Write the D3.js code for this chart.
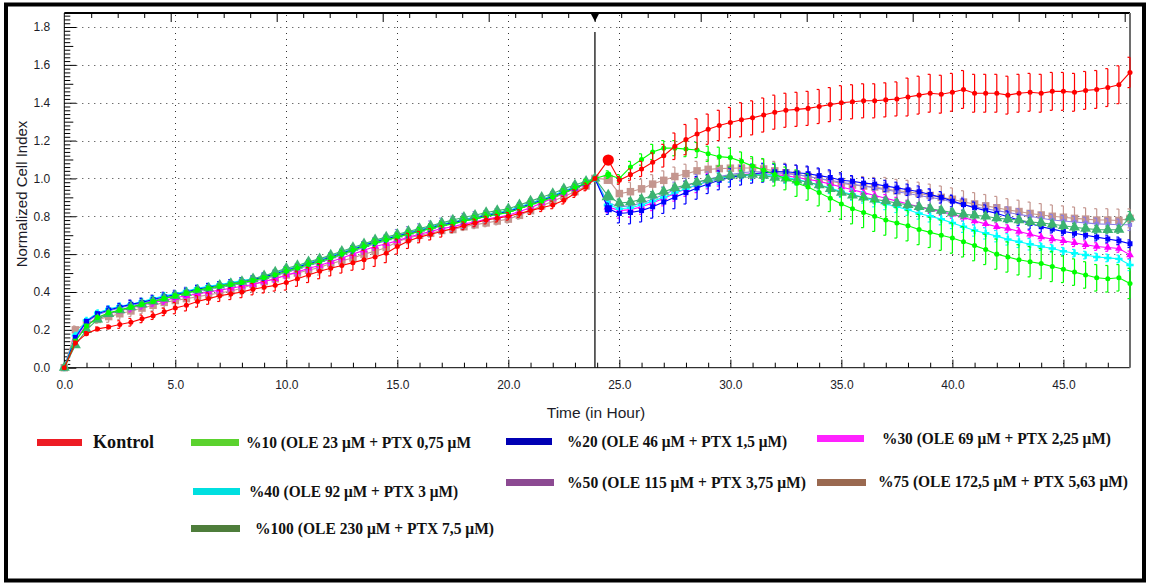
<!DOCTYPE html>
<html>
<head>
<meta charset="utf-8">
<script src="https://cdn.jsdelivr.net/npm/d3@7"></script>
<style>
    body { margin: 0; background: #fff; }
    svg { display: block; }
</style>
</head>
<body>
<svg id="chart" width="1152" height="585"></svg>
<script>
(function () {
    // ---------------- data ----------------

    // time in hours; 23.9 h is the normalisation point (vertical line)
    const times = [
        0,0.5,1,1.5,2,2.5,3,3.5,4,4.5,5,5.5,6,6.5,7,7.5,8,8.5,9,9.5,10,10.5,11,11.5,12,12.5,13,13.5,14,14.5,15,15.5,16,16.5,17,17.5,18,18.5,19,19.5,20,20.5,21,21.5,22,22.5,23,23.5,23.9,
        24.5,25,25.5,26,26.5,27,27.5,28,28.5,29,29.5,30,30.5,31,31.5,32,32.5,33,33.5,34,34.5,35,35.5,36,36.5,37,37.5,38,38.5,39,39.5,40,40.5,41,41.5,42,42.5,43,43.5,44,44.5,45,45.5,46,46.5,47,47.5,48
    ];
    const normTime = 23.9;

    const seriesNames = [
        "Kontrol",
        "%10 (OLE 23 μM + PTX 0,75 μM",
        "%20 (OLE 46 μM + PTX 1,5 μM)",
        "%30 (OLE 69 μM + PTX 2,25 μM)",
        "%40 (OLE 92 μM + PTX 3 μM)",
        "%50 (OLE 115 μM + PTX 3,75 μM)",
        "%75 (OLE 172,5 μM + PTX 5,63 μM)",
        "%100 (OLE 230 μM + PTX 7,5 μM)",
    ];

    // normalized cell index
    const kontrol = [
        0,0.13,0.18,0.205,0.215,0.228,0.24,0.258,0.275,0.295,0.315,0.33,0.35,0.365,0.38,0.39,0.40,0.415,0.425,0.435,0.45,0.47,0.49,0.51,0.525,0.54,0.555,0.57,0.585,0.605,0.64,0.67,0.69,0.705,0.72,0.735,0.75,0.765,0.78,0.79,0.80,0.815,0.83,0.845,0.86,0.885,0.92,0.955,1.0,
        1.097,0.99,1.02,1.05,1.085,1.12,1.17,1.205,1.235,1.26,1.28,1.295,1.31,1.32,1.335,1.35,1.36,1.365,1.37,1.38,1.39,1.40,1.405,1.41,1.41,1.415,1.42,1.43,1.44,1.45,1.445,1.455,1.47,1.45,1.45,1.45,1.44,1.45,1.455,1.45,1.46,1.46,1.455,1.465,1.47,1.48,1.495,1.56
    ];
    const p10 = [
        0,0.14,0.22,0.265,0.29,0.305,0.32,0.335,0.35,0.365,0.38,0.395,0.41,0.42,0.43,0.44,0.45,0.46,0.475,0.49,0.51,0.525,0.545,0.56,0.58,0.60,0.62,0.64,0.66,0.675,0.69,0.705,0.72,0.735,0.75,0.76,0.775,0.785,0.80,0.81,0.82,0.84,0.86,0.88,0.90,0.925,0.95,0.975,1.0,
        1.02,1.0,1.06,1.10,1.14,1.16,1.16,1.155,1.15,1.13,1.115,1.11,1.09,1.065,1.045,1.02,1.0,0.975,0.955,0.925,0.895,0.865,0.84,0.82,0.80,0.78,0.765,0.75,0.73,0.715,0.70,0.685,0.665,0.645,0.625,0.60,0.585,0.57,0.56,0.55,0.535,0.52,0.505,0.49,0.475,0.47,0.475,0.445
    ];
    const p20 = [
        0,0.16,0.245,0.285,0.305,0.32,0.335,0.345,0.36,0.375,0.385,0.40,0.415,0.425,0.435,0.445,0.455,0.465,0.48,0.495,0.515,0.53,0.55,0.565,0.585,0.605,0.625,0.645,0.665,0.68,0.695,0.71,0.725,0.74,0.755,0.765,0.78,0.79,0.805,0.815,0.825,0.845,0.865,0.885,0.905,0.93,0.95,0.975,1.0,
        0.84,0.815,0.82,0.83,0.85,0.875,0.90,0.925,0.95,0.97,0.99,1.005,1.015,1.025,1.03,1.035,1.035,1.03,1.025,1.015,1.005,0.99,0.985,0.975,0.97,0.96,0.95,0.94,0.93,0.915,0.90,0.88,0.862,0.845,0.83,0.815,0.798,0.78,0.762,0.745,0.732,0.72,0.71,0.70,0.69,0.68,0.67,0.655
    ];
    const p30 = [
        0,0.15,0.225,0.265,0.285,0.3,0.315,0.33,0.345,0.355,0.37,0.38,0.39,0.40,0.41,0.42,0.43,0.44,0.455,0.47,0.49,0.505,0.525,0.54,0.56,0.58,0.6,0.62,0.64,0.655,0.67,0.69,0.705,0.72,0.735,0.745,0.76,0.77,0.785,0.795,0.805,0.825,0.845,0.87,0.895,0.92,0.945,0.97,1.0,
        0.85,0.83,0.835,0.85,0.87,0.895,0.92,0.945,0.965,0.985,1.0,1.01,1.02,1.025,1.025,1.02,1.015,1.005,0.995,0.985,0.97,0.955,0.94,0.925,0.91,0.895,0.88,0.865,0.85,0.835,0.825,0.81,0.795,0.775,0.76,0.745,0.735,0.72,0.705,0.69,0.68,0.67,0.66,0.65,0.64,0.635,0.63,0.596
    ];
    const p40 = [
        0,0.17,0.25,0.29,0.31,0.325,0.335,0.35,0.365,0.38,0.39,0.405,0.42,0.43,0.44,0.45,0.46,0.47,0.485,0.50,0.52,0.535,0.555,0.57,0.59,0.61,0.63,0.65,0.67,0.685,0.70,0.715,0.73,0.745,0.76,0.77,0.785,0.795,0.81,0.82,0.83,0.85,0.87,0.89,0.91,0.935,0.955,0.975,1.0,
        0.86,0.84,0.845,0.86,0.88,0.90,0.925,0.945,0.965,0.985,1.0,1.01,1.015,1.02,1.02,1.015,1.005,0.995,0.98,0.965,0.95,0.93,0.915,0.90,0.88,0.865,0.85,0.835,0.815,0.80,0.785,0.765,0.745,0.725,0.71,0.695,0.678,0.665,0.652,0.64,0.63,0.615,0.605,0.595,0.585,0.58,0.575,0.543
    ];
    const p50 = [
        0,0.16,0.24,0.28,0.3,0.315,0.33,0.34,0.355,0.37,0.38,0.395,0.405,0.415,0.425,0.435,0.445,0.455,0.47,0.485,0.505,0.52,0.54,0.555,0.575,0.595,0.615,0.635,0.655,0.67,0.69,0.705,0.72,0.735,0.75,0.76,0.775,0.785,0.80,0.81,0.82,0.84,0.86,0.88,0.90,0.925,0.95,0.975,1.0,
        0.87,0.85,0.855,0.87,0.89,0.915,0.94,0.96,0.98,0.995,1.01,1.02,1.03,1.035,1.035,1.03,1.025,1.02,1.01,1.0,0.99,0.98,0.97,0.96,0.95,0.94,0.93,0.92,0.91,0.90,0.89,0.875,0.86,0.85,0.84,0.83,0.82,0.81,0.80,0.79,0.78,0.775,0.77,0.765,0.76,0.758,0.755,0.755
    ];
    const p75 = [
        0,0.2,0.235,0.255,0.27,0.285,0.3,0.315,0.33,0.345,0.355,0.365,0.375,0.385,0.395,0.405,0.42,0.44,0.455,0.47,0.49,0.50,0.515,0.53,0.55,0.565,0.58,0.60,0.615,0.635,0.665,0.685,0.70,0.71,0.725,0.73,0.745,0.755,0.765,0.775,0.785,0.805,0.83,0.855,0.88,0.905,0.93,0.96,1.0,
        0.995,0.92,0.93,0.945,0.97,0.99,1.01,1.025,1.04,1.048,1.052,1.054,1.055,1.055,1.05,1.04,1.03,1.02,1.01,1.0,0.985,0.975,0.965,0.96,0.955,0.945,0.935,0.93,0.92,0.91,0.90,0.89,0.875,0.865,0.855,0.845,0.833,0.825,0.815,0.807,0.80,0.795,0.789,0.785,0.78,0.78,0.778,0.789
    ];
    const p100 = [
        0,0.12,0.2,0.255,0.285,0.305,0.32,0.335,0.35,0.365,0.38,0.395,0.41,0.42,0.435,0.445,0.455,0.47,0.485,0.505,0.525,0.54,0.56,0.575,0.595,0.615,0.635,0.655,0.675,0.69,0.705,0.72,0.735,0.75,0.765,0.78,0.795,0.805,0.82,0.83,0.84,0.86,0.88,0.90,0.92,0.945,0.965,0.985,1.0,
        0.905,0.87,0.875,0.89,0.91,0.93,0.95,0.965,0.98,0.995,1.005,1.015,1.02,1.02,1.015,1.005,1.0,0.99,0.98,0.965,0.945,0.925,0.91,0.90,0.89,0.88,0.87,0.86,0.85,0.84,0.83,0.82,0.81,0.805,0.80,0.79,0.785,0.78,0.77,0.765,0.758,0.75,0.742,0.735,0.73,0.728,0.73,0.795
    ];

    // standard deviations, in hundredths of a cell-index unit
    const kontrolErr = [
        0,1,1,1,1,2,2,2,2,2,3,3,3,3,3,3,3,3,3,3,4,4,4,4,4,4,4,5,5,5,4,4,3,3,3,2,2,2,2,2,2,2,2,2,2,2,2,2,0,
        2,2,3,4,5,6,7,8,8,8,8,8,9,9,9,9,9,9,9,9,9,9,9,9,9,9,9,10,10,10,10,10,10,10,10,10,10,10,10,10,10,10,10,10,10,10,10,8
    ];
    const p10Err = [
        0,1,1,1,1,1,1,1,1,1,1,1,1,1,1,1,1,1,1,1,2,2,2,2,2,2,2,2,2,2,2,2,2,2,2,2,2,2,2,2,2,2,2,2,2,2,2,2,0,
        2,2,3,3,4,4,4,4,4,4,5,5,5,5,6,6,6,7,7,7,7,8,8,8,8,8,8,8,8,8,8,8,8,8,8,8,8,8,8,8,8,7,7,7,7,7,7,8
    ];
    const p20Err = [
        0,1,1,1,2,2,2,2,2,2,2,2,2,2,2,2,2,2,2,2,2,2,2,2,2,2,2,2,2,2,2,2,2,2,2,2,2,2,1,1,1,1,1,1,1,1,1,1,0,
        3,5,6,6,6,6,6,6,6,5,5,5,5,5,5,4,4,4,4,4,4,4,3,3,3,3,3,3,3,3,3,3,3,3,3,3,3,3,3,3,2,2,2,2,2,2,2,2
    ];
    const p30Err = [
        0,1,1,1,1,1,2,2,2,2,2,2,2,2,2,2,2,2,2,2,2,2,2,2,2,2,2,2,2,2,2,2,2,2,2,1,1,1,1,1,1,1,1,1,1,1,1,1,0,
        3,4,4,4,4,4,4,4,4,4,4,3,3,3,3,3,3,3,3,3,2,2,2,2,2,2,2,2,2,2,2,2,2,2,2,2,2,2,2,2,2,2,2,2,2,2,2,2
    ];
    const p40Err = [
        0,1,1,1,1,1,1,1,1,1,1,1,1,1,1,1,1,1,1,1,1,1,1,1,1,1,1,1,1,1,1,1,1,1,1,1,1,1,1,1,1,1,1,1,1,1,1,1,0,
        2,3,3,3,3,3,3,3,3,3,3,3,3,3,3,3,3,3,3,3,3,3,3,3,3,3,3,3,3,3,3,3,3,3,3,3,3,3,3,2,2,2,2,2,2,2,2,3
    ];
    const p50Err = [
        0,1,1,2,2,2,3,3,3,3,3,3,3,3,3,3,3,3,3,3,3,3,3,3,3,3,3,3,3,3,4,4,4,4,4,4,4,4,3,3,3,3,2,2,2,2,2,2,0,
        3,4,4,4,4,4,4,4,4,4,4,4,4,4,4,5,5,5,5,5,5,4,4,4,4,4,4,4,4,4,4,4,4,3,3,3,3,3,3,3,3,3,3,3,3,3,3,3
    ];
    const p75Err = [
        0,2,2,2,3,3,3,3,3,3,3,3,3,3,3,3,3,4,4,4,4,4,4,4,4,3,3,3,3,3,3,3,3,2,2,2,2,2,2,2,2,2,2,2,2,2,2,2,0,
        2,5,5,5,5,5,5,5,5,5,5,5,5,5,5,5,5,5,5,5,5,5,5,5,5,6,6,6,6,6,6,6,6,6,6,6,6,6,6,6,6,6,6,6,6,6,6,5
    ];
    const p100Err = [
        0,1,1,1,1,1,1,1,1,1,1,1,1,1,1,1,1,1,1,1,1,1,1,1,1,1,1,1,1,1,1,1,1,1,1,1,1,1,1,1,1,1,1,1,1,1,1,1,0,
        2,2,2,2,2,2,2,2,2,2,2,2,2,2,2,2,2,2,2,2,2,2,2,2,2,2,2,2,2,2,2,2,2,2,2,2,2,2,2,2,2,2,2,2,2,2,2,3
    ];

    const xTicks = [0, 5, 10, 15, 20, 25, 30, 35, 40, 45];
    const yTicks = [0, 0.2, 0.4, 0.6, 0.8, 1.0, 1.2, 1.4, 1.6, 1.8];

    // ---------------- setup ----------------

    const allValues = [kontrol, p10, p20, p30, p40, p50, p75, p100];
    const allErrs = [kontrolErr, p10Err, p20Err, p30Err, p40Err, p50Err, p75Err, p100Err];
    allValues.concat(allErrs).forEach((arr, i) => {
        if (arr.length !== times.length) {
            throw new Error("array " + i + " has " + arr.length + " values, expected " + times.length);
        }
    });

    // plot colours / markers (legend swatches use their own colours, as in the source figure)
    const styles = [
        { color: "#ff0000", symbol: d3.symbolCircle, size: 20, big: 5, swatch: "#ed1c24" },
        { color: "#00ff00", symbol: d3.symbolCircle, size: 20, big: 1.5, swatch: "#5bd22e" },
        { color: "#0000ff", symbol: d3.symbolSquare, size: 25, big: 2, swatch: "#0000b4" },
        { color: "#ff00ff", symbol: d3.symbolTriangle, size: 26, big: 1.5, swatch: "#ff22ff" },
        { color: "#00ffff", symbol: d3.symbolCross, size: 30, big: 1.5, swatch: "#00dfe0" },
        { color: "#8a7ce6", symbol: d3.symbolSquare, size: 18, big: 1.5, swatch: "#8c4a92" },
        { color: "#c4968f", symbol: d3.symbolSquare, size: 56, big: 1.5, swatch: "#9a6950" },
        { color: "#3cb371", symbol: d3.symbolTriangle, size: 52, big: 1.5, swatch: "#4e7d3b" },
    ];
    const drawOrder = [6, 5, 3, 4, 2, 7, 1, 0];
    const firstPost = times.findIndex((t) => t > normTime);

    const svg = d3.select("#chart");
    const left = 64.3, right = 1130, top = 13, bottom = 367.7;

    const x = d3.scaleLinear().domain([0, 48]).range([left, right]);
    const y = d3.scaleLinear().domain([0, 1.874]).range([bottom, top]);
    const topScale = d3.scaleLinear().domain([0, 40.2]).range([64.7, right]);

    const axisFont = "'Liberation Sans', Arial, sans-serif";
    const legendFont = "'Liberation Serif', 'Times New Roman', serif";

    // outer frame
    svg.append("rect")
        .attr("x", 6)
        .attr("y", 4.5)
        .attr("width", 1138)
        .attr("height", 576)
        .attr("fill", "#fff")
        .attr("stroke", "#000")
        .attr("stroke-width", 4);

    // grid

    const grid = svg.append("g").attr("stroke", "#333").attr("stroke-width", 1).attr("stroke-dasharray", "1,5");
    grid.selectAll(".gx")
        .data(xTicks.filter((d) => d > 0))
        .enter()
        .append("line")
        .attr("x1", (d) => Math.round(x(d)) + 0.5)
        .attr("x2", (d) => Math.round(x(d)) + 0.5)
        .attr("y1", top + 2)
        .attr("y2", bottom);
    grid.selectAll(".gy")
        .data(yTicks.filter((d) => d > 0))
        .enter()
        .append("line")
        .attr("x1", left)
        .attr("x2", right)
        .attr("y1", (d) => Math.round(y(d)) + 0.5)
        .attr("y2", (d) => Math.round(y(d)) + 0.5);

    // axes

    function styleAxis(g) {
        g.select(".domain").remove();
        g.selectAll("line").attr("stroke", "#000");
        g.attr("font-family", axisFont).attr("font-size", 12);
        g.selectAll("text").attr("fill", "#1c1c28");
    }

    const minorY = d3.range(0, 1.87, 0.02).filter((d) => Math.abs(d * 10 - Math.round(d * 10)) > 1e-6);
    const midY = d3.range(0.1, 1.87, 0.2);
    svg.append("g")
        .attr("transform", `translate(${left},0)`)
        .call(d3.axisLeft(y).tickValues(minorY).tickSize(-6).tickFormat(""))
        .call(styleAxis);
    svg.append("g")
        .attr("transform", `translate(${left},0)`)
        .call(d3.axisLeft(y).tickValues(midY).tickSize(-9).tickFormat(""))
        .call(styleAxis);
    svg.append("g")
        .attr("transform", `translate(${left},0)`)
        .call(d3.axisLeft(y).tickValues(yTicks).tickSize(-12).tickPadding(14).tickFormat(d3.format(".1f")))
        .call(styleAxis);

    svg.append("g")
        .attr("transform", `translate(0,${bottom})`)
        .call(d3.axisBottom(x).tickValues(d3.range(1, 48).filter((d) => d % 5)).tickSize(-5).tickFormat(""))
        .call(styleAxis);
    svg.append("g")
        .attr("transform", `translate(0,${bottom})`)
        .call(d3.axisBottom(x).tickValues(xTicks).tickSize(-8).tickPadding(13).tickFormat(d3.format(".1f")))
        .call(styleAxis);

    svg.append("g")
        .attr("transform", `translate(0,${top})`)
        .call(d3.axisBottom(topScale).tickValues(d3.range(1, 41).filter((d) => d % 4)).tickSize(5).tickFormat(""))
        .call(styleAxis);
    svg.append("g")
        .attr("transform", `translate(0,${top})`)
        .call(d3.axisBottom(topScale).tickValues(d3.range(4, 41, 4)).tickSize(9).tickFormat(""))
        .call(styleAxis);

    // plot frame
    svg.append("line").attr("x1", left).attr("x2", right).attr("y1", top).attr("y2", top)
        .attr("stroke", "#000").attr("stroke-width", 2);
    svg.append("line").attr("x1", left).attr("x2", left).attr("y1", top).attr("y2", bottom)
        .attr("stroke", "#000").attr("stroke-width", 1);
    svg.append("line").attr("x1", left).attr("x2", right).attr("y1", bottom).attr("y2", bottom)
        .attr("stroke", "#000").attr("stroke-width", 1);
    svg.append("line").attr("x1", right).attr("x2", right).attr("y1", top).attr("y2", bottom)
        .attr("stroke", "#6e6e6e").attr("stroke-width", 2);

    // normalisation marker
    const nx = x(normTime);
    svg.append("line")
        .attr("x1", nx).attr("x2", nx)
        .attr("y1", 32).attr("y2", bottom)
        .attr("stroke", "#111")
        .attr("stroke-width", 1.3);
    svg.append("path")
        .attr("d", `M${nx - 4.5},${top} L${nx + 4.5},${top} L${nx},${top + 8.5} Z`)
        .attr("fill", "#000");

    // series

    const lineGen = d3.line()
        .x((d) => x(d.t))
        .y((d) => y(d.v));

    drawOrder.forEach((si) => {
        const st = styles[si];
        const pts = times.map((t, i) => ({ t: t, v: allValues[si][i], e: allErrs[si][i] / 100, i: i }));
        const g = svg.append("g").attr("class", "series");

        const bars = g.selectAll(".err")
            .data(pts.filter((d) => d.e > 0))
            .enter()
            .append("g")
            .attr("stroke", st.color)
            .attr("stroke-width", 1.2);
        bars.append("line")
            .attr("x1", (d) => x(d.t))
            .attr("x2", (d) => x(d.t))
            .attr("y1", (d) => y(d.v - d.e))
            .attr("y2", (d) => y(d.v + d.e));
        bars.append("line")
            .attr("x1", (d) => x(d.t) - 2.5)
            .attr("x2", (d) => x(d.t))
            .attr("y1", (d) => y(d.v + d.e))
            .attr("y2", (d) => y(d.v + d.e));
        bars.append("line")
            .attr("x1", (d) => x(d.t) - 2.5)
            .attr("x2", (d) => x(d.t))
            .attr("y1", (d) => y(d.v - d.e))
            .attr("y2", (d) => y(d.v - d.e));

        g.append("path")
            .datum(pts)
            .attr("d", lineGen)
            .attr("fill", "none")
            .attr("stroke", st.color)
            .attr("stroke-width", 1.1);

        g.selectAll(".mark")
            .data(pts)
            .enter()
            .append("path")
            .attr("transform", (d) => `translate(${x(d.t)},${y(d.v)})`)
            .attr("d", (d) => d3.symbol().type(st.symbol).size(d.i === firstPost ? st.size * st.big : st.size)())
            .attr("fill", st.color);
    });

    // axis titles

    svg.append("text")
        .attr("x", 596)
        .attr("y", 418)
        .attr("text-anchor", "middle")
        .attr("font-family", axisFont)
        .attr("font-size", 15.5)
        .attr("fill", "#1c1c28")
        .text("Time (in Hour)");

    svg.append("text")
        .attr("transform", "translate(27,194) rotate(-90)")
        .attr("text-anchor", "middle")
        .attr("font-family", axisFont)
        .attr("font-size", 15)
        .attr("fill", "#1c1c28")
        .text("Normalized Cell Index");

    // legend

    const legendLayout = [
        { sx: 37, sy: 439, sw: 45, tx: 93, ty: 448, fs: 18, tl: 61 },
        { sx: 191, sy: 439, sw: 48, tx: 246, ty: 448, fs: 16, tl: 225 },
        { sx: 506, sy: 438, sw: 46, tx: 567, ty: 447, fs: 16, tl: 220 },
        { sx: 817, sy: 435, sw: 47, tx: 882, ty: 444, fs: 16, tl: 229 },
        { sx: 193, sy: 488, sw: 47, tx: 249, ty: 497, fs: 16, tl: 209 },
        { sx: 506, sy: 479, sw: 48, tx: 567, ty: 488, fs: 16, tl: 239 },
        { sx: 817, sy: 479, sw: 49, tx: 878, ty: 487, fs: 16, tl: 250 },
        { sx: 191, sy: 525, sw: 49, tx: 255, ty: 534, fs: 16, tl: 239 },
    ];

    const legend = svg.append("g").attr("id", "legend");
    const item = legend.selectAll("g")
        .data(seriesNames.map((name, i) => ({ name: name, lay: legendLayout[i], color: styles[i].swatch })))
        .enter()
        .append("g");
    item.append("rect")
        .attr("x", (d) => d.lay.sx)
        .attr("y", (d) => d.lay.sy)
        .attr("width", (d) => d.lay.sw)
        .attr("height", 7)
        .attr("fill", (d) => d.color);
    item.append("text")
        .attr("x", (d) => d.lay.tx)
        .attr("y", (d) => d.lay.ty)
        .attr("font-family", legendFont)
        .attr("font-weight", "bold")
        .attr("font-size", (d) => d.lay.fs)
        .attr("textLength", (d) => d.lay.tl)
        .attr("lengthAdjust", "spacingAndGlyphs")
        .attr("fill", "#111")
        .text((d) => d.name);
})();
</script>
</body>
</html>
